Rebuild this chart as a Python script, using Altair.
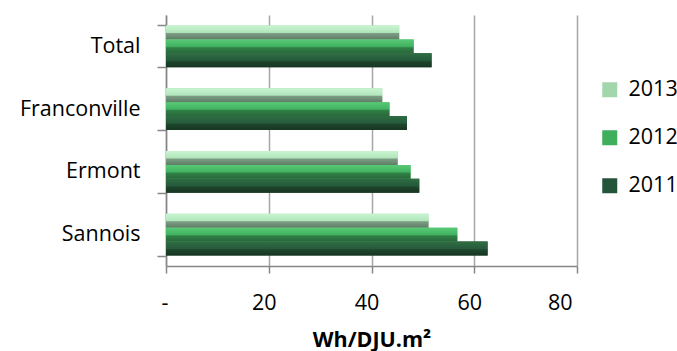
import altair as alt
import pandas as pd

categories = ["Total", "Franconville", "Ermont", "Sannois"]
years = ["2013", "2012", "2011"]
v2013 = [45.4, 42.1, 45.1, 51.1]
v2012 = [48.2, 43.5, 47.6, 56.7]
v2011 = [51.7, 46.9, 49.3, 62.6]
tick_values = [0, 20, 40, 60, 80]

rows = []
for yr, vals in zip(years, [v2013, v2012, v2011]):
    for c, v in zip(categories, vals):
        rows.append({"site": c, "year": yr, "value": v})
df = pd.DataFrame(rows)

FONT = "Open Sans"
FS = 21.5
GRAY = "#868686"

solid = ["#a3d6ac", "#3fae5d", "#24553a"]
grads = {
    "2013": [("#c8f5d1", 0), ("#b2e6bc", 0.5), ("#7c9c83", 0.58), ("#5f7e66", 1)],
    "2012": [("#58ca76", 0), ("#42b361", 0.5), ("#2f8046", 0.6), ("#28683a", 1)],
    "2011": [("#2f6d42", 0), ("#255a3b", 0.5), ("#1d452c", 0.6), ("#173522", 1)],
}

y_enc = alt.Y(
    "site:N",
    sort=categories,
    scale=alt.Scale(paddingInner=0.333, paddingOuter=0.1667),
    axis=alt.Axis(
        title=None,
        grid=False,
        domainColor=GRAY,
        domainWidth=1.5,
        tickBand="extent",
        tickSize=9,
        tickColor=GRAY,
        tickWidth=1.5,
        labelPadding=17,
        labelFont=FONT,
        labelFontSize=FS,
        labelColor="#000000",
    ),
)
yoff_enc = alt.YOffset(
    "year:N",
    sort=years,
    scale=alt.Scale(domain=years, paddingInner=0, paddingOuter=0),
)
x_enc = alt.X(
    "value:Q",
    scale=alt.Scale(domain=[0, 80], nice=False),
    axis=alt.Axis(
        title="Wh/DJU.m²",
        values=tick_values,
        labelExpr="datum.value == 0 ? '-' : datum.label",
        grid=True,
        gridColor="#a6a6a6",
        gridWidth=1.5,
        domainColor=GRAY,
        domainWidth=1.5,
        tickColor=GRAY,
        tickWidth=1.5,
        tickSize=7,
        labelPadding=19,
        labelOffset=-5,
        labelFont=FONT,
        labelFontSize=FS,
        labelColor="#000000",
        titleFont=FONT,
        titleFontSize=FS,
        titleFontWeight="bold",
        titleColor="#000000",
        titleBaseline="alphabetic",
        titleAlign="center",
        titleX=205.5,
        titleY=80,
    ),
)

legend_layer = alt.Chart(df).mark_bar().encode(
    y=y_enc,
    yOffset=yoff_enc,
    x=x_enc,
    color=alt.Color(
        "year:N",
        scale=alt.Scale(domain=years, range=solid),
        legend=alt.Legend(
            title=None,
            orient="none",
            legendX=433,
            legendY=64,
            symbolType="square",
            symbolSize=225,
            symbolStrokeWidth=0,
            labelFont=FONT,
            labelFontSize=FS,
            labelColor="#000000",
            labelOffset=8,
            rowPadding=25,
            padding=0,
        ),
    ),
)

layers = [legend_layer]
for yr in years:
    g = alt.LinearGradient(
        gradient="linear",
        stops=[alt.GradientStop(color=c, offset=o) for c, o in grads[yr]],
        x1=0, x2=0, y1=0, y2=1,
    )
    layers.append(
        alt.Chart(df)
        .transform_filter(alt.datum.year == yr)
        .mark_bar(color=g)
        .encode(y=y_enc, yOffset=yoff_enc, x=x_enc)
    )

chart = (
    alt.layer(*layers)
    .properties(
        width=411,
        height=251,
        padding={"left": 166, "top": 15, "right": 100, "bottom": 85},
        autosize=alt.AutoSizeParams(type="none"),
        background="#ffffff",
    )
    .configure_view(strokeWidth=0)
)

chart.save("out.html", embed_options={"renderer": "svg", "actions": False})
